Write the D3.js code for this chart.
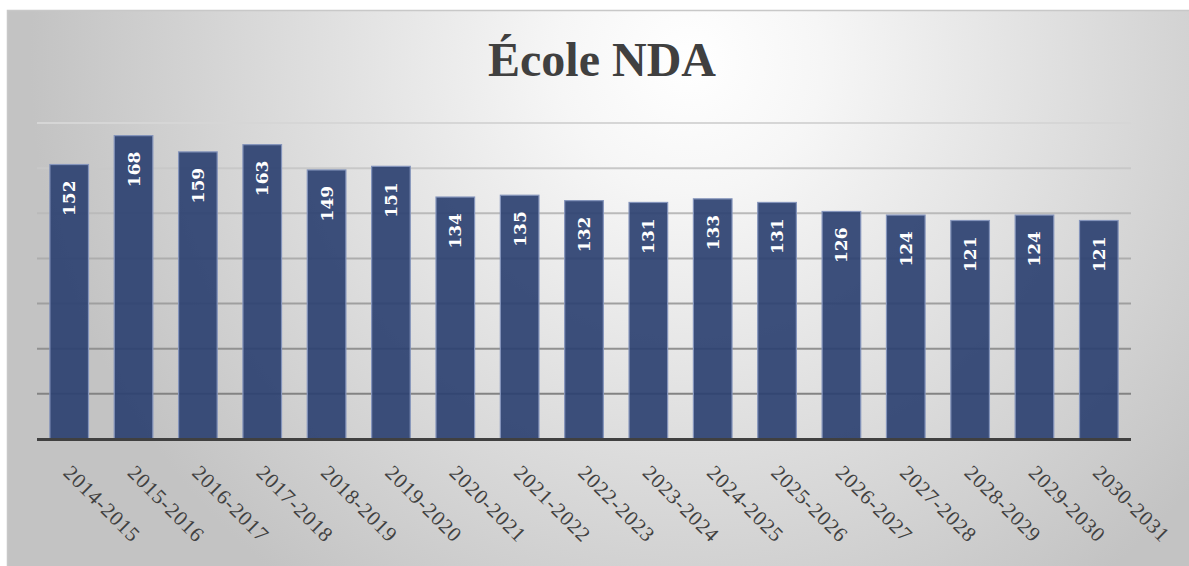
<!DOCTYPE html>
<html>
<head>
<meta charset="utf-8">
<script src="https://cdn.jsdelivr.net/npm/d3@7"></script>
<style>
  html, body { margin: 0; padding: 0; background: #ffffff; }
  svg { display: block; }
</style>
</head>
<body>
<svg id="chart" width="1189" height="566"></svg>
<script>
const title = "École NDA";
const categories = ["2014-2015","2015-2016","2016-2017","2017-2018","2018-2019","2019-2020","2020-2021","2021-2022","2022-2023","2023-2024","2024-2025","2025-2026","2026-2027","2027-2028","2028-2029","2029-2030","2030-2031"];
const values = [152,168,159,163,149,151,134,135,132,131,133,131,126,124,121,124,121];
const gridTicks = [25,50,75,100,125,150,175];

const W = 1189, H = 566;
const svg = d3.select("#chart");
const defs = svg.append("defs");

const bg = defs.append("radialGradient")
  .attr("id", "bg").attr("gradientUnits", "userSpaceOnUse")
  .attr("cx", 690).attr("cy", 60).attr("r", 660);
bg.append("stop").attr("offset", 0).attr("stop-color", "#ffffff");
bg.append("stop").attr("offset", 0.2).attr("stop-color", "#f6f6f6");
bg.append("stop").attr("offset", 1).attr("stop-color", "#c3c3c3");

svg.append("rect").attr("x", 7.5).attr("y", 10.5).attr("width", W).attr("height", H)
  .attr("fill", "url(#bg)").attr("stroke", "#c8c8c8").attr("stroke-width", 1.5);

const x = d3.scaleBand().domain(categories).range([37, 1131]).paddingInner(0.4).paddingOuter(0.2);
const y = d3.scaleLinear().domain([0, 175]).range([439, 123]);
const gridColor = d3.scaleLinear().domain([175, 25]).range(["#d6d6d6", "#838383"]);

svg.append("text")
  .attr("x", 602).attr("y", 76)
  .attr("text-anchor", "middle")
  .attr("font-family", "'Liberation Serif', 'DejaVu Serif', serif")
  .attr("font-weight", "bold")
  .attr("font-size", 48)
  .attr("fill", "#404040")
  .text(title);

svg.append("g").selectAll("line").data(gridTicks).join("line")
  .attr("x1", 37).attr("x2", 1131)
  .attr("y1", d => y(d)).attr("y2", d => y(d))
  .attr("stroke", d => gridColor(d)).attr("stroke-width", 2);

svg.append("g").selectAll("rect").data(values).join("rect")
  .attr("x", (d, i) => x(categories[i]))
  .attr("width", x.bandwidth())
  .attr("y", d => y(d))
  .attr("height", d => y(0) - y(d))
  .attr("fill", "#2c4171").attr("fill-opacity", 0.92)
  .attr("stroke", "#8494bb").attr("stroke-width", 1.2);

svg.append("g").selectAll("text").data(values).join("text")
  .attr("transform", (d, i) => `translate(${x(categories[i]) + x.bandwidth() / 2},${y(d) + 16}) rotate(-90)`)
  .attr("text-anchor", "end")
  .attr("dominant-baseline", "central")
  .attr("font-family", "'DejaVu Serif', serif")
  .attr("font-weight", "bold")
  .attr("font-size", 17)
  .attr("fill", "#ffffff")
  .text(d => d);

svg.append("line")
  .attr("x1", 37).attr("x2", 1131)
  .attr("y1", y(0) + 0.5).attr("y2", y(0) + 0.5)
  .attr("stroke", "#404040").attr("stroke-width", 3);

const xAxis = d3.axisBottom(x).tickSize(0).tickPadding(0);
const gx = svg.append("g").attr("transform", `translate(0,${y(0)})`).call(xAxis);
gx.select(".domain").remove();
gx.selectAll(".tick text")
  .attr("transform", "translate(-2,30) rotate(45)")
  .attr("x", 0).attr("y", 0).attr("dy", 0)
  .attr("text-anchor", "start")
  .attr("dominant-baseline", "central")
  .attr("font-family", "'Liberation Serif', serif")
  .attr("font-size", 21)
  .attr("letter-spacing", "0.8px")
  .attr("fill", "#404040");
</script>
</body>
</html>
